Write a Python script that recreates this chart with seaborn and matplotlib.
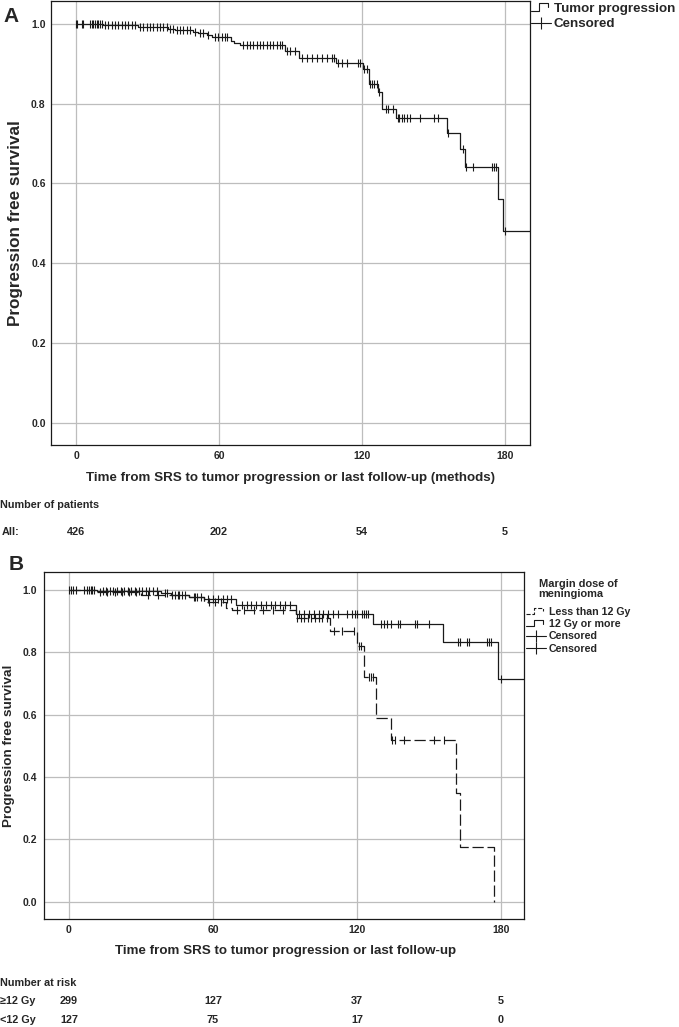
import numpy as np
import matplotlib
matplotlib.use("Agg")
import matplotlib.pyplot as plt
from matplotlib.lines import Line2D
from matplotlib.legend_handler import HandlerBase
import seaborn as sns

# ---------------- data (months, survival) ----------------
A_event_t = [11.2, 26.2, 38.8, 41.5, 49.2, 51.3, 54.8, 56.9, 64.9, 66.3, 68.8, 87.7,
             93.7, 109.1, 120.3, 123.1, 126.9, 128.2, 134.2, 155.5, 161.1, 163.2,
             177.2, 179.3]
A_event_s = [0.996, 0.9925, 0.988, 0.984, 0.980, 0.976, 0.972, 0.9675, 0.957, 0.952,
             0.946, 0.933, 0.915, 0.9025, 0.8875, 0.850, 0.829, 0.7875, 0.7635, 0.726,
             0.686, 0.640, 0.560, 0.482]
A_censor_t = [0.0, 0.5, 2.4, 3.1, 5.9, 6.6, 7.3, 8.0, 8.7, 9.4, 10.1, 10.8, 12.2, 13.6,
              15.0, 16.4, 17.8, 19.2, 20.6, 22.0, 23.4, 24.8, 26.9, 28.3, 29.7, 31.1,
              32.4, 33.9, 35.2, 36.6, 38.0, 39.4, 40.8, 42.2, 43.6, 45.0, 46.4, 47.8,
              49.9, 52.0, 53.4, 55.5, 58.3, 59.7, 61.1, 62.5, 63.2, 70.2, 71.6, 73.0,
              74.4, 75.8, 77.2, 78.6, 80.0, 81.4, 82.8, 84.2, 85.6, 86.3, 88.4, 89.8,
              91.9, 94.7, 96.8, 98.9, 101.0, 103.1, 105.2, 107.3, 108.3, 110.1, 111.5,
              113.6, 118.5, 119.2, 121.0, 121.9, 123.4, 124.4, 125.2, 126.2, 127.3,
              130.1, 131.1, 132.9, 134.9, 135.7, 136.7, 137.6, 138.8, 140.2, 144.4,
              150.4, 151.8, 156.0, 162.3, 163.6, 166.7, 174.5, 175.5, 176.3, 180.0]
A_last_t = 195.0

# 12 Gy or more (solid)
B1_event_t = [11.8, 38.2, 42.4, 50.0, 56.3, 69.4, 94.5, 126.8, 156.0, 178.9]
B1_event_s = [0.996, 0.989, 0.983, 0.977, 0.971, 0.950, 0.922, 0.890, 0.834, 0.714]
B1_censor_t = [0.0, 0.7, 6.3, 7.7, 8.4, 9.1, 9.7, 10.4, 14.0, 15.5, 17.0, 18.5, 20.0,
               21.5, 23.0, 24.5, 26.0, 27.5, 29.0, 30.5, 32.0, 33.5, 35.0, 36.5, 40.0,
               41.0, 44.0, 45.5, 47.0, 48.5, 52.0, 53.5, 55.0, 58.0, 60.0, 62.0, 64.0,
               66.0, 67.5, 72.0, 74.0, 76.0, 78.0, 80.0, 82.0, 84.0, 86.0, 88.0, 90.0,
               92.0, 96.0, 98.0, 100.0, 102.0, 104.0, 106.0, 108.0, 110.0, 112.0, 116.0,
               118.0, 119.0, 119.9, 121.9, 122.9, 123.6, 124.6, 130.1, 131.3, 132.6,
               134.0, 137.1, 137.9, 144.0, 145.1, 150.0, 162.1, 163.0, 166.0, 166.8,
               174.0, 175.0, 176.0, 179.9]
B1_last_t = 195.0

# Less than 12 Gy (dashed)
B2_event_t = [11.8, 30.0, 50.0, 56.3, 65.3, 68.1, 94.5, 108.8, 119.9, 122.9, 128.1,
              134.0, 161.1, 162.9, 177.1]
B2_event_s = [0.992, 0.984, 0.976, 0.960, 0.942, 0.936, 0.909, 0.869, 0.821, 0.719,
              0.588, 0.520, 0.348, 0.175, 0.0]
B2_censor_t = [1.5, 3.0, 13.0, 16.0, 19.0, 22.0, 25.0, 28.0, 33.0, 37.0, 43.0, 46.0,
               52.5, 58.5, 61.0, 63.5, 70.0, 73.0, 77.0, 81.0, 85.0, 89.0, 95.1, 96.5,
               98.0, 99.5, 101.0, 102.5, 104.0, 105.5, 107.6, 110.4, 113.9, 118.8,
               120.8, 121.8, 125.0, 126.0, 126.8, 134.7, 135.7, 139.6, 152.1, 156.3]

x_ticks = [0, 60, 120, 180]
y_ticks = [0.0, 0.2, 0.4, 0.6, 0.8, 1.0]

A_risk_label = "All:"
A_risk = [426, 202, 54, 5]
B_risk_labels = ["\u226512 Gy", "<12 Gy"]
B_risk = [[299, 127, 37, 5], [127, 75, 17, 0]]

# ---------------- style ----------------
sns.set_theme(style="white")
plt.rcParams["font.family"] = ["Liberation Sans", "DejaVu Sans"]
plt.rcParams["font.weight"] = "bold"
plt.rcParams["axes.labelweight"] = "bold"

W, H = 679, 1027
fig = plt.figure(figsize=(W / 100, H / 100), dpi=100)
axA = fig.add_axes([51 / W, 1 - 445 / H, (530 - 51) / W, 444 / H])
axB = fig.add_axes([44 / W, 1 - 919 / H, (524 - 44) / W, (919 - 572) / H])

DASH = (0, (9, 3))


def km(ax, ev_t, ev_s, cen_t, last_t, ls):
    t = [0.0] + list(ev_t)
    s = [1.0] + list(ev_s)
    if last_t is not None:
        t.append(last_t)
        s.append(s[-1])
    t = np.asarray(t)
    s = np.asarray(s)
    sns.lineplot(x=t, y=s, drawstyle="steps-post", estimator=None, sort=False,
                 color="k", lw=0.9, linestyle=ls, ax=ax)
    c = np.asarray(cen_t)
    cy = s[np.searchsorted(t, c, side="right") - 1]
    sns.scatterplot(x=c, y=cy, marker="|", s=38, color="k", edgecolor="k",
                    linewidth=0.8, ax=ax, zorder=3)


km(axA, A_event_t, A_event_s, A_censor_t, A_last_t, "-")
km(axB, B1_event_t, B1_event_s, B1_censor_t, B1_last_t, "-")
km(axB, B2_event_t, B2_event_s, B2_censor_t, None, DASH)

for ax, xl, ypad in ((axA, (-10.5, 190.5), 3.8), (axB, (-10.4, 189.6), 5.0)):
    ax.set_xlim(*xl)
    ax.set_ylim(-0.055, 1.057)
    ax.set_xticks(x_ticks)
    ax.set_xticklabels([str(v) for v in x_ticks])
    ax.set_yticks(y_ticks)
    ax.set_yticklabels([f"{v:.1f}" for v in y_ticks])
    ax.grid(True, color="#bdbdbd", lw=0.9)
    ax.set_axisbelow(True)
    ax.tick_params(axis="y", length=0, labelsize=7.5, pad=ypad)
    ax.tick_params(axis="x", length=0, labelsize=7.5, pad=4.5)
    for sp in ax.spines.values():
        sp.set_visible(True)
        sp.set_color("k")
        sp.set_linewidth(0.9)

axA.set_ylabel("Progression free survival", fontsize=12.3, fontweight="bold")
axB.set_ylabel("Progression free survival", fontsize=9.7, fontweight="bold")
axA.set_xlabel("Time from SRS to tumor progression or last follow-up (methods)",
               fontsize=9.6, fontweight="bold")
axB.set_xlabel("Time from SRS to tumor progression or last follow-up",
               fontsize=9.6, fontweight="bold")
axA.yaxis.set_label_coords((23 - 51) / 479, 0.5)
axB.yaxis.set_label_coords((15 - 44) / 480, 0.5)
axA.xaxis.set_label_coords(0.5, -(472 - 445) / 444)
axB.xaxis.set_label_coords(0.504, -(945 - 919) / 347)

fig.text(3 / W, 1 - 22 / H, "A", fontsize=15, fontweight="bold", va="baseline")
fig.text(9 / W, 1 - 570 / H, "B", fontsize=15, fontweight="bold", va="baseline")


# ---------------- legends ----------------
class StepHandler(HandlerBase):
    def create_artists(self, legend, orig_handle, xdescent, ydescent, width,
                       height, fontsize, trans):
        xs = np.array([0.0, 0.4, 0.4, 0.85, 0.85]) * width - xdescent
        ys = np.array([0.1, 0.1, 0.9, 0.9, 0.45]) * height - ydescent
        ln = Line2D(xs, ys, color="k", lw=0.8, linestyle=orig_handle.get_linestyle(),
                    transform=trans)
        return [ln]


step_solid = Line2D([], [], color="k", linestyle="-")
step_dash = Line2D([], [], color="k", linestyle=(0, (3, 1.5)))
cens = Line2D([], [], color="k", lw=0.8, marker="|", markersize=9, mew=0.8)

legA = axA.legend([step_solid, cens], ["Tumor progression", "Censored"],
                  handler_map={step_solid: StepHandler()},
                  loc="upper left", bbox_to_anchor=(530 / W, 1 - 1 / H),
                  bbox_transform=fig.transFigure, frameon=False, fontsize=9.6,
                  handlelength=1.5, handletextpad=0.2, labelspacing=0.25,
                  borderaxespad=0, borderpad=0.1, numpoints=1)
for t in legA.get_texts():
    t.set_fontweight("bold")

cens2 = Line2D([], [], color="k", lw=0.8, marker="|", markersize=8, mew=0.8)
legB = axB.legend([step_dash, step_solid, cens, cens2],
                  ["Less than 12 Gy", "12 Gy or more", "Censored", "Censored"],
                  handler_map={step_solid: StepHandler(), step_dash: StepHandler()},
                  title="Margin dose of\nmeningioma",
                  loc="upper left", bbox_to_anchor=(525 / W, 1 - 578 / H),
                  bbox_transform=fig.transFigure, frameon=False, fontsize=7.7,
                  title_fontsize=7.9, handlelength=1.9, handletextpad=0.2,
                  labelspacing=0.22, borderaxespad=0, borderpad=0.1, numpoints=1)
legB.get_title().set_fontweight("bold")
legB.get_title().set_linespacing(1.0)
legB._legend_box.sep = 5.5
for t in legB.get_texts():
    t.set_fontweight("bold")

# ---------------- number at risk tables ----------------
tfont = dict(fontsize=7.8, fontweight="bold",
             family=["Liberation Sans Narrow", "Liberation Sans", "DejaVu Sans"])
fig.text(0 / W, 1 - 505 / H, "Number of patients", va="center", ha="left", **tfont)
fig.text(2 / W, 1 - 532 / H, A_risk_label, va="center", ha="left", **tfont)
trA = matplotlib.transforms.blended_transform_factory(axA.transData, fig.transFigure)
for xv, n in zip(x_ticks, A_risk):
    axA.text(xv, 1 - 532 / H, str(n), transform=trA, ha="center", va="center",
             clip_on=False, **tfont)

fig.text(0 / W, 1 - 983 / H, "Number at risk", va="center", ha="left", **tfont)
trB = matplotlib.transforms.blended_transform_factory(axB.transData, fig.transFigure)
for lab, row, yy in zip(B_risk_labels, B_risk, (1001, 1020)):
    fig.text(0 / W, 1 - yy / H, lab, va="center", ha="left", **tfont)
    for xv, n in zip(x_ticks, row):
        axB.text(xv, 1 - yy / H, str(n), transform=trB, ha="center", va="center",
                 clip_on=False, **tfont)

fig.savefig("out.png", dpi=100)
